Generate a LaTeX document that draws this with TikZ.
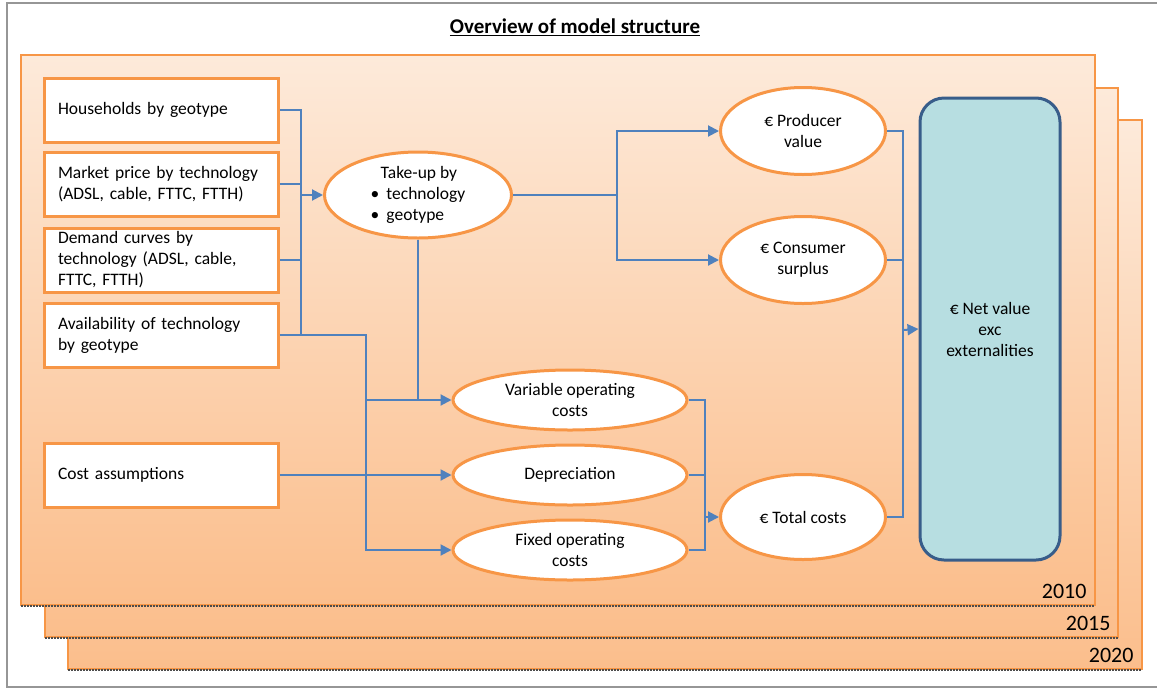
\documentclass[tikz,border=0pt]{standalone}
\usepackage{fontspec}
\setmainfont{Carlito}
\usepackage{xcolor}
\usepackage{tikz}
\definecolor{frameorange}{RGB}{247, 150, 70}
\definecolor{linkblue}{RGB}{79, 129, 189}
\definecolor{pagetop}{RGB}{253, 234, 218}
\definecolor{pagebottom}{RGB}{251, 190, 140}
\definecolor{netfill}{RGB}{183, 222, 225}
\definecolor{netdraw}{RGB}{56, 93, 138}
\definecolor{framegray}{RGB}{150, 150, 150}
\usetikzlibrary{shapes.geometric, arrows.meta, positioning, calc}

\begin{document}
\begin{tikzpicture}[
    x=1pt, y=-1pt,
    font=\fontsize{17.5}{21}\selectfont,
    page/.style={draw=frameorange, line width=1.5pt, top color=pagetop, bottom color=pagebottom},
    shadowline/.style={draw=black!70, line width=1.6pt, dash pattern=on 1.5pt off 1.5pt},
    inputbox/.style={rectangle, draw=frameorange, fill=white, line width=3pt, minimum width=234pt, minimum height=64pt, text width=206pt, inner xsep=14pt, align=left},
    result/.style={ellipse, draw=frameorange, fill=white, line width=3pt, inner sep=0pt, align=center},
    link/.style={draw=linkblue, line width=2pt},
    arrow/.style={link, -{Triangle[length=11pt, width=11pt]}},
    year/.style={anchor=east, font=\fontsize{22}{24}\selectfont}
]
    \useasboundingbox (0,0) rectangle (1157,689);
    \draw[framegray, line width=2.5pt] (1160,3) -- (7,3) -- (7,687) -- (1160,687);

    % Title
    \node[font=\fontsize{21}{24}\selectfont\bfseries] (title) at (575,27) {\underline{Overview of model structure}};

    % Pages per year
    \path[page] (68,120) rectangle (1142,669);
    \draw[shadowline] (68,670) -- (1142,670);
    \node[year] (y2020) at (1137,655) {2020};
    \path[page] (45,88) rectangle (1118,637);
    \draw[shadowline] (45,638) -- (1118,638);
    \node[year] (y2015) at (1114,623) {2015};
    \path[page] (21,55) rectangle (1095,605);
    \draw[shadowline] (21,606) -- (1095,606);
    \node[year] (y2010) at (1090,591) {2010};

    % Inputs
    \node[inputbox] (hh) at (161,110) {Households by geotype};
    \node[inputbox] (price) at (161,184) {Market price by technology\\(ADSL, cable, FTTC, FTTH)};
    \node[inputbox] (demand) at (161,260) {Demand curves by\\technology (ADSL, cable,\\FTTC, FTTH)};
    \node[inputbox] (avail) at (161,335) {Availability of technology\\by geotype};
    \node[inputbox] (cost) at (161,475) {Cost assumptions};

    % Intermediate results
    \node[result, minimum width=187pt, minimum height=86pt, align=left] (takeup) at (418,195) {\hspace*{10pt}Take-up by\\\textbullet\hspace{7pt}technology\\\textbullet\hspace{7pt}geotype};
    \node[result, minimum width=165pt, minimum height=87pt] (prod) at (803,131) {€ Producer\\value};
    \node[result, minimum width=165pt, minimum height=87pt] (cons) at (803,260) {€ Consumer\\surplus};
    \node[result, minimum width=234pt, minimum height=60pt] (var) at (570,400) {Variable operating\\costs};
    \node[result, minimum width=234pt, minimum height=60pt] (dep) at (570,475) {Depreciation};
    \node[result, minimum width=234pt, minimum height=60pt] (fixed) at (570,550) {Fixed operating\\costs};
    \node[result, minimum width=165pt, minimum height=85pt] (total) at (803,517) {€ Total costs};

    % Net value
    \node[rectangle, rounded corners=24pt, draw=netdraw, fill=netfill, line width=3pt, minimum width=140pt, minimum height=462pt, align=center] (net) at (990,329) {€ Net value\\exc\\externalities};

    % Junctions
    \coordinate (busA) at (301,195);
    \coordinate (busB) at (366,475);
    \coordinate (busC) at (617,195);
    \coordinate (busD) at (705,517);
    \coordinate (busE) at (903,330);

    % Arrows
    \draw[link] (hh.east) -| (busA |- avail.east);
    \draw[link] (price.east) -- (busA |- price.east);
    \draw[link] (demand.east) -- (busA |- demand.east);
    \draw[arrow] (busA) -- (takeup.west);

    \draw[link] (takeup.east) -- (busC);
    \draw[arrow] (busC) |- (prod.west);
    \draw[arrow] (busC) |- (cons.west);

    \draw[arrow] (avail.east) -| (busB) |- (fixed.west);
    \draw[arrow] (busB |- var.west) -- (var.west);
    \draw[link] (takeup.south) -- (takeup.south |- var.west);
    \draw[arrow] (cost.east) -- (dep.west);

    \draw[link] (var.east) -| (busD |- fixed.east) -- (fixed.east);
    \draw[link] (dep.east) -- (busD |- dep.east);
    \draw[arrow] (busD) -- (total.west);

    \draw[link] (prod.east) -| (busE |- total.east) -- (total.east);
    \draw[link] (cons.east) -- (busE |- cons.east);
    \draw[arrow] (busE) -- (net.west);
\end{tikzpicture}
\end{document}
